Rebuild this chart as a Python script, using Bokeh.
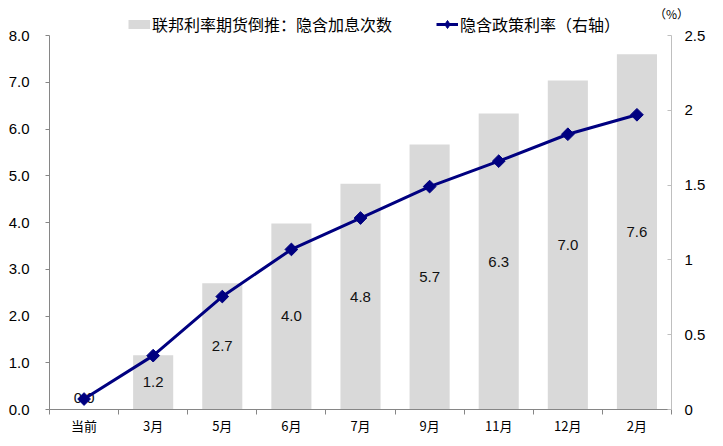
import math
from bokeh.plotting import figure
from bokeh.models import (Range1d, LinearAxis, FixedTicker, PrintfTickFormatter,
                          CustomJSTickFormatter, Legend, LegendItem, ColumnDataSource)
from bokeh.embed import file_html
from bokeh.resources import INLINE
from bokeh.core.properties import value

# ---- data ----
categories = ["当前", "3月", "5月", "6月", "7月", "9月", "11月", "12月", "2月"]
hikes = [0.0, 1.16, 2.70, 3.98, 4.83, 5.67, 6.33, 7.04, 7.60]
policy_rate = [0.07, 0.36, 0.755, 1.07, 1.28, 1.49, 1.66, 1.84, 1.97]
left_ticks = [0, 1, 2, 3, 4, 5, 6, 7, 8]
right_ticks = [0, 0.5, 1, 1.5, 2, 2.5]
bar_name = "联邦利率期货倒推：隐含加息次数"
line_name = "隐含政策利率（右轴）"
unit_label = "（%）"

CJK = "Noto Sans CJK SC"
NUM = "Liberation Sans"

# ---- layout (pixels) ----
TOP = 9             # frame top
AXIS_TOP = 35       # where the axes end (8.0 / 2.5)
BOTTOM = 409        # frame bottom
FRAME_W = 622
FRAME_H = BOTTOM - TOP
stretch = FRAME_H / (BOTTOM - AXIS_TOP)
left_max = left_ticks[-1]
right_max = right_ticks[-1]
ncat = len(categories)
NAN = float("nan")

x = [i + 0.5 for i in range(ncat)]
src = ColumnDataSource(dict(
    x=x,
    hikes=hikes,
    label_y=[max(v / 2, 0.25) for v in hikes],
    text=[f"{v:.1f}" for v in hikes],
    rate=policy_rate,
))

p = figure(frame_width=FRAME_W, frame_height=FRAME_H,
           x_range=Range1d(0, ncat), y_range=Range1d(0, left_max * stretch),
           output_backend="svg", toolbar_location=None,
           min_border_left=49, min_border_right=50,
           min_border_top=TOP, min_border_bottom=35)
p.extra_y_ranges = {"right": Range1d(0, right_max * stretch)}
p.outline_line_color = None
p.xgrid.visible = False
p.ygrid.visible = False
p.background_fill_color = "white"
p.border_fill_color = "white"

# bars
p.vbar(x="x", top="hikes", width=0.58, source=src, fill_color="#D9D9D9",
       line_color=None)
p.text(x="x", y="label_y", text="text", source=src, text_align="center",
       text_baseline="middle", text_font=value(NUM), text_font_size="15px",
       text_color="#111111")

# line
line_r = p.line(x="x", y="rate", source=src, y_range_name="right",
                line_color="#000080", line_width=3)
mark_r = p.scatter(x="x", y="rate", source=src, y_range_name="right",
                   marker="square", angle=math.pi / 4, size=9,
                   fill_color="#000080", line_color="#000080")

# legend-only proxies (NaN -> nothing drawn in the plot)
bar_proxy = p.line(x=[NAN], y=[NAN], line_color="#D9D9D9", line_width=9,
                   line_cap="butt")
dia_proxy = p.scatter(x=[NAN], y=[NAN], marker="diamond", size=9,
                      fill_color="#000080", line_color="#000080")

# axes
xa = p.xaxis[0]
xa.ticker = FixedTicker(ticks=x, minor_ticks=list(range(0, ncat + 1)))
xa.formatter = CustomJSTickFormatter(args=dict(cats=categories),
                                     code="return cats[Math.floor(tick)]")
xa.major_tick_in = 0
xa.major_tick_out = 0
xa.minor_tick_in = 0
xa.minor_tick_out = 5
xa.minor_tick_line_color = "#868686"
xa.axis_line_color = "#868686"
xa.major_label_text_font = CJK
xa.major_label_text_font_size = "13px"
xa.major_label_text_color = "#000000"
xa.major_label_standoff = 1

ya = p.yaxis[0]
ya.bounds = (0, left_max)
ya.ticker = FixedTicker(ticks=left_ticks)
ya.formatter = PrintfTickFormatter(format="%.1f")
ya.major_tick_in = 0
ya.major_tick_out = 4
ya.minor_tick_line_color = None
ya.axis_line_color = "#868686"
ya.major_tick_line_color = "#868686"
ya.major_label_text_font = NUM
ya.major_label_text_font_size = "15px"
ya.major_label_text_color = "#000000"
ya.major_label_standoff = 16

yr = LinearAxis(y_range_name="right", bounds=(0, right_max),
                ticker=FixedTicker(ticks=right_ticks),
                formatter=CustomJSTickFormatter(code="return tick.toString()"))
yr.major_tick_in = 4
yr.major_tick_out = 0
yr.minor_tick_line_color = None
yr.axis_line_color = "#BFBFBF"
yr.major_tick_line_color = "#BFBFBF"
yr.major_label_text_font = NUM
yr.major_label_text_font_size = "15px"
yr.major_label_text_color = "#000000"
yr.major_label_standoff = 13
p.add_layout(yr, "right")

# unit "(%)" as the single label of a bare axis above the right axis
ua = LinearAxis(ticker=FixedTicker(ticks=[ncat]),
                formatter=CustomJSTickFormatter(args=dict(unit=unit_label),
                                                code="return unit"))
ua.axis_line_color = None
ua.major_tick_line_color = None
ua.minor_tick_line_color = None
ua.major_tick_in = 0
ua.major_tick_out = 0
ua.major_label_standoff = -12
ua.major_label_text_font = CJK
ua.major_label_text_font_size = "12px"
ua.major_label_text_color = "#000000"
p.add_layout(ua, "above")

legend = Legend(items=[LegendItem(label=bar_name, renderers=[bar_proxy]),
                       LegendItem(label=line_name, renderers=[line_r, dia_proxy])],
                orientation="horizontal", location=(128 - 49, BOTTOM - 35.5),
                padding=0, margin=0, spacing=44, label_standoff=2,
                glyph_width=22, glyph_height=20, label_height=22,
                label_text_font=CJK, label_text_font_size="16px",
                label_text_color="#000000",
                border_line_color=None, background_fill_alpha=0)
p.add_layout(legend, "center")

open("out.html", "w").write(file_html(p, INLINE))
